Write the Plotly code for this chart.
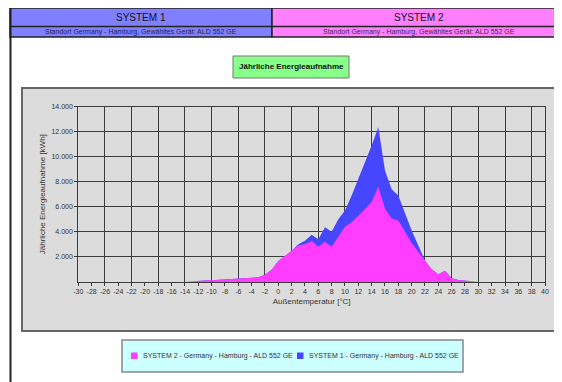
import plotly.graph_objects as go

# ---- data ----
temps = list(range(-14, 31))
system2 = [0, 50, 80, 100, 120, 150, 200, 220, 250, 260, 300, 350, 550, 950, 1650,
           2050, 2450, 2900, 3000, 3250, 2800, 3200, 2800, 3600, 4400, 4750, 5250,
           5800, 6400, 7600, 5850, 5050, 4900, 4000, 3100, 2400, 1650, 1000, 600,
           880, 270, 130, 80, 40, 0]
system1 = [0, 50, 80, 100, 120, 150, 200, 220, 250, 260, 300, 350, 550, 950, 1650,
           2050, 2450, 3000, 3270, 3750, 3400, 4350, 4000, 5000, 5700, 6900, 8200,
           9500, 10900, 12350, 8900, 7400, 6900, 5500, 4100, 2900, 1700, 1000, 600,
           880, 270, 130, 80, 40, 0]
name1 = "SYSTEM 1 - Germany - Hamburg - ALD 552 GE"
name2 = "SYSTEM 2 - Germany - Hamburg - ALD 552 GE"
header1 = "SYSTEM 1"
header2 = "SYSTEM 2"
subheader = "Standort Germany - Hamburg, Gewähltes Gerät: ALD 552 GE"
chart_title = "Jährliche Energieaufnahme"
x_title = "Außentemperatur [°C]"
y_title = "Jährliche Energieaufnahme [kWh]"
x_ticks = list(range(-30, 41, 2))
x_ticktext = [str(v) for v in x_ticks]
y_ticks = list(range(2000, 14001, 2000))

W, H = 562, 382
OFF = 8  # page body margin in the viewer
def px(x):
    return (x - OFF) / W
def py(y):
    return 1 - (y - OFF) / H

FONT = "Liberation Sans, Arial, sans-serif"
BLUE = "#4646FF"
PINK = "#FF3CFF"
TXT = "#333333"
grid_color = "#3C3C3C"

fig = go.Figure()
fig.add_trace(go.Scatter(x=temps, y=system1, name=name1, mode="lines",
                         line=dict(width=0, color=BLUE), fill="tozeroy",
                         fillcolor=BLUE, showlegend=False))
fig.add_trace(go.Scatter(x=temps, y=system2, name=name2, mode="lines",
                         line=dict(width=0, color=PINK), fill="tozeroy",
                         fillcolor=PINK, showlegend=False))
# invisible trace carrying the label axis
fig.add_trace(go.Scatter(x=[x_ticks[0], x_ticks[-1]], y=[0, 0], xaxis="x2",
                         mode="lines", line=dict(width=0), showlegend=False,
                         hoverinfo="skip"))

fig.update_layout(
    template="none",
    width=W, height=H, autosize=False,
    margin=dict(l=0, r=0, t=0, b=0, pad=0, autoexpand=False),
    paper_bgcolor="white",
    plot_bgcolor="#DCDCDC",
    separators=",.",
    font=dict(family=FONT, size=7, color=TXT),
    showlegend=False,
    xaxis=dict(domain=[px(78.3), px(545)], range=[-30, 40], tick0=-30, dtick=4,
               showgrid=True, gridcolor=grid_color, gridwidth=1,
               showticklabels=False, ticks="", zeroline=False,
               showline=True, linecolor=grid_color, linewidth=1, mirror=True,
               automargin=False, fixedrange=True),
    xaxis2=dict(overlaying="x", anchor="y", side="bottom", range=[-30, 40],
                tickvals=x_ticks, ticktext=x_ticktext, tickangle=0,
                showgrid=False, zeroline=False,
                ticks="outside", ticklen=3, tickcolor=grid_color,
                tickfont=dict(size=7, color=TXT, family=FONT),
                title=dict(text=x_title, standoff=4,
                           font=dict(size=8, color=TXT, family=FONT)),
                showline=False, automargin=False, fixedrange=True),
    yaxis=dict(domain=[py(281.7), py(106.7)], range=[0, 14000],
               tickvals=y_ticks, tickformat=",d",
               showgrid=True, gridcolor=grid_color, gridwidth=1,
               ticks="outside", ticklen=3, tickcolor=grid_color,
               zeroline=False, showline=True, linecolor=grid_color,
               linewidth=1, mirror=True,
               tickfont=dict(size=7, color=TXT, family=FONT),
               title=dict(text=y_title, standoff=4,
                          font=dict(size=8, color=TXT, family=FONT)),
               automargin=False, fixedrange=True),
)

def rect(x0, x1, y0, y1, fill, lc, lw):
    return dict(type="rect", xref="paper", yref="paper", x0=px(x0), x1=px(x1),
                y0=py(y1), y1=py(y0), fillcolor=fill,
                line=dict(color=lc, width=lw), layer="below")

shapes = [
    rect(10, 272, 8, 37, "#8080FF", "#222222", 1.5),
    rect(272, 575, 8, 37, "#FF80FF", "#222222", 1.5),
    dict(type="line", xref="paper", yref="paper", x0=px(10), x1=px(575),
         y0=py(26.5), y1=py(26.5), line=dict(color="#222222", width=1.5)),
    dict(type="line", xref="paper", yref="paper", x0=px(10.5), x1=px(10.5),
         y0=py(8), y1=py(395), line=dict(color="#222222", width=2)),
    rect(233, 349, 56, 78, "#88FF88", "#777777", 1),
    rect(22, 558, 88, 331, "#DCDCDC", "#666666", 2),
    rect(122, 463, 340, 372, "#CCFFFF", "#888888", 1.5),
    # legend swatches
    dict(type="rect", xref="paper", yref="paper", x0=px(131), x1=px(137.5),
         y0=py(359), y1=py(352.5), fillcolor=PINK, line=dict(width=0)),
    dict(type="rect", xref="paper", yref="paper", x0=px(297), x1=px(303.5),
         y0=py(359), y1=py(352.5), fillcolor=BLUE, line=dict(width=0)),
]
fig.update_layout(shapes=shapes)

def text(t, x, y, size, color, xanchor="center"):
    return dict(text=t, x=px(x), y=py(y), xref="paper", yref="paper",
                xanchor=xanchor, yanchor="middle", showarrow=False,
                font=dict(size=size, color=color, family=FONT))

ann = [
    text(header1, 141, 17.5, 10, "#111111"),
    text(header2, 419, 17.5, 10, "#111111"),
    text(subheader, 141, 32, 7, "#222244"),
    text(subheader, 419, 32, 7, "#442244"),
    text("<b>" + chart_title + "</b>", 291, 67, 8, "#111111"),
    text(name2, 141, 356, 7, TXT, "left"),
    text(name1, 307, 356, 7, TXT, "left"),
]
fig.update_layout(annotations=ann)

fig.write_html("out.html")
